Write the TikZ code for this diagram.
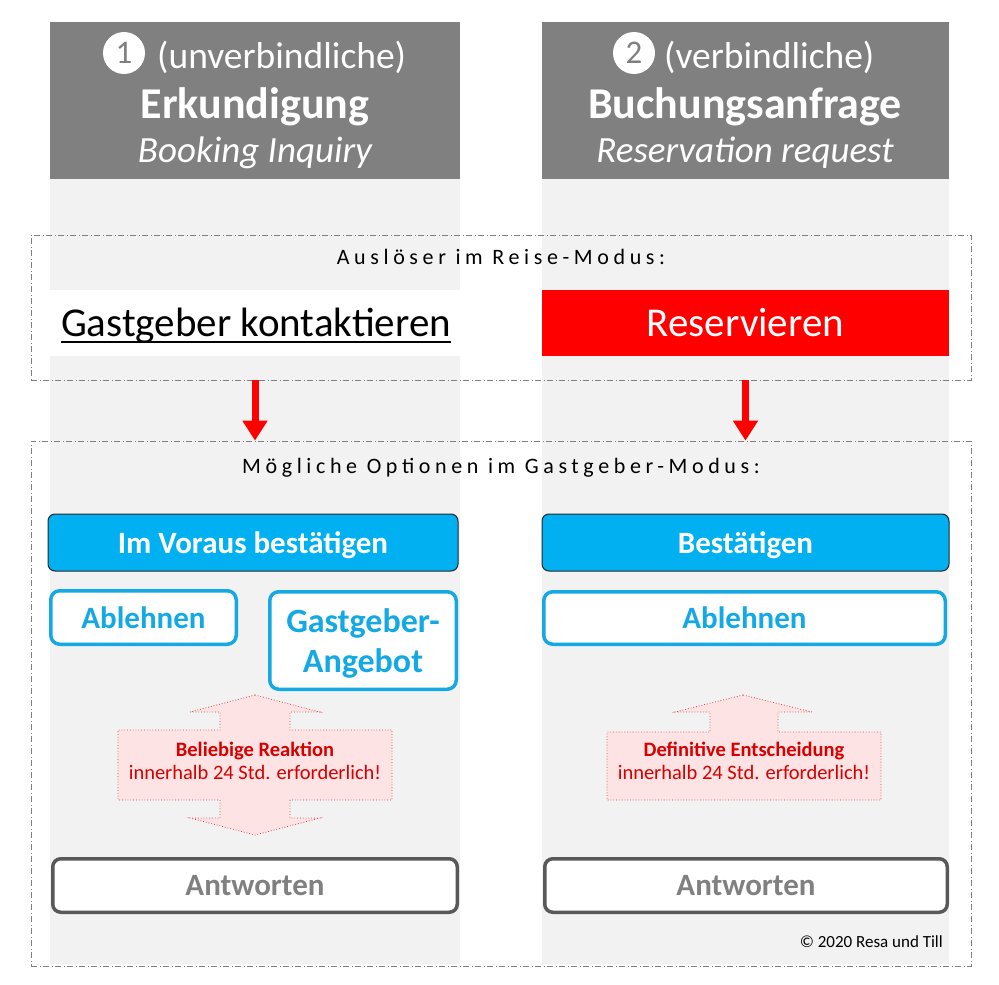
\documentclass[tikz,border=0pt]{standalone}
\usepackage{fontspec}
\setmainfont{Carlito}
\newfontfamily\spacedfont[LetterSpace=21]{Carlito}
\usetikzlibrary{arrows.meta}
\definecolor{hdrgray}{HTML}{808080}
\definecolor{colgray}{HTML}{F2F2F2}
\definecolor{cyanfill}{HTML}{00B0F0}
\definecolor{cyanline}{HTML}{14A9E4}
\definecolor{pinkfill}{HTML}{FDE3E3}
\definecolor{pinkline}{HTML}{D04040}
\definecolor{redtext}{HTML}{D60000}
\definecolor{ansline}{HTML}{595959}
\definecolor{anstext}{HTML}{808080}
\definecolor{dashgray}{HTML}{7F7F7F}
\newcommand{\fs}[1]{\fontsize{#1}{#1}\selectfont}
\tikzset{
  colbg/.style={fill=colgray, draw=none},
  hdrbox/.style={fill=hdrgray, draw=none},
  hdrtext/.style={text=white, inner sep=0pt, anchor=base},
  numcircle/.style={circle, fill=white, draw=none, minimum size=42pt, inner sep=0pt, text=hdrgray, font=\fs{33}},
  dashbox/.style={draw=dashgray, line width=0.8pt, dash pattern=on 6pt off 2.5pt on 1pt off 2.5pt, inner sep=0pt},
  spacedlabel/.style={inner sep=0pt, anchor=base, font=\spacedfont\fs{22}},
  trigger/.style={minimum width=410pt, minimum height=66pt, inner sep=0pt},
  redarrow/.style={draw=red, line width=7pt, -{Triangle[width=24pt,length=20pt]}},
  bluebox/.style={rounded corners=7pt, fill=cyanfill, draw=black!85, line width=1pt, text=white, inner sep=0pt, text depth=0pt, font=\bfseries\fs{31}},
  outbox/.style={rounded corners=9pt, fill=white, draw=cyanline, line width=3.5pt, text=cyanline, inner sep=0pt, text depth=0pt, font=\bfseries\fs{31}, align=center},
  ansbox/.style={rounded corners=8pt, fill=white, draw=ansline, line width=3.5pt, text=anstext, inner sep=0pt, text depth=0pt, font=\bfseries\fs{31}},
  pinkshape/.style={fill=pinkfill, draw=pinkline, line width=0.8pt, dotted},
  pinktext/.style={text=redtext, inner sep=0pt, align=center, font=\fs{20.5}},
}
\begin{document}
\begin{tikzpicture}[x=1pt,y=-1pt]
\useasboundingbox (0,0) rectangle (999,985);
\fill[white] (0,0) rectangle (999,985);
% columns
\fill[colbg] (50,22) rectangle (460,964);
\fill[colbg] (542,22) rectangle (949,964);
\fill[hdrbox] (50,22) rectangle (460,179);
\fill[hdrbox] (542,22) rectangle (949,179);
% headers
\node[numcircle] (c1) at (124,53) {1};
\node[hdrtext, anchor=base west, font=\fs{37.5}] (h1a) at (157,68) {(unverbindliche)};
\node[hdrtext, font=\bfseries\fs{44}] (h1b) at (255,118) {Erkundigung};
\node[hdrtext, font=\itshape\fs{37}] (h1c) at (255,162) {Booking Inquiry};
\node[numcircle] (c2) at (634,53) {2};
\node[hdrtext, anchor=base west, font=\fs{37.5}] (h2a) at (664,68) {(verbindliche)};
\node[hdrtext, font=\bfseries\fs{44}] (h2b) at (745,118) {Buchungsanfrage};
\node[hdrtext, font=\itshape\fs{37}] (h2c) at (745,162) {Reservation request};
% dashed frames
\node[dashbox, minimum width=940pt, minimum height=145pt] (trig) at (501,307.5) {};
\node[dashbox, minimum width=940pt, minimum height=525pt] (opts) at (501,703.5) {};
\node[spacedlabel] (lab1) at (501,264) {Auslöser im Reise-Modus:};
\node[spacedlabel] (lab2) at (501,473) {Mögliche Optionen im Gastgeber-Modus:};
% triggers
\node[trigger, fill=white] (gk) at (255,323) {};
\node[inner sep=0pt, anchor=base, font=\fs{41}] (gktext) at (256,336) {Gastgeber kontaktieren};
\draw[line width=2.4pt] ([yshift=-6pt]gktext.base west) -- ([yshift=-6pt]gktext.base east);
\node[trigger, fill=red, minimum width=407pt] (res) at (745.5,323) {};
\node[inner sep=0pt, anchor=base, font=\fs{41}, text=white] (restext) at (745.5,336) {Reservieren};
% red arrows
\draw[redarrow] (trig.south -| gk) -- (opts.north -| gk);
\draw[redarrow] (trig.south -| res) -- (opts.north -| res);
% option boxes
\node[bluebox, minimum width=410pt, minimum height=57pt] (vor) at (253,542.5) {Im Voraus bestätigen};
\node[bluebox, minimum width=407pt, minimum height=57pt] (best) at (745.5,542.5) {Bestätigen};
\node[outbox, minimum width=185.5pt, minimum height=53.5pt] (abl1) at (143.5,617.5) {Ablehnen};
\node[outbox, minimum width=186.5pt, minimum height=97.5pt, font=\bfseries\fs{34}] (ang) at (363,640.5) {Gastgeber-\\[6pt]Angebot};
\node[outbox, minimum width=401.5pt, minimum height=52.5pt] (abl2) at (744.5,618) {Ablehnen};
% pink arrows
\filldraw[pinkshape] (255,695) -- (190,712) -- (220,712) -- (220,730) -- (118,730) -- (118,800)
  -- (220,800) -- (220,818) -- (190,818) -- (255,835) -- (320,818) -- (290,818) -- (290,800)
  -- (392,800) -- (392,730) -- (290,730) -- (290,712) -- (320,712) -- cycle;
\node[pinktext] (p1) at (255,761) {{\bfseries Beliebige Reaktion}\\[3pt]innerhalb 24 Std. erforderlich!};
\filldraw[pinkshape] (743,695) -- (675,712) -- (710,712) -- (710,732) -- (607,732) -- (607,800)
  -- (881,800) -- (881,732) -- (778,732) -- (778,712) -- (812,712) -- cycle;
\node[pinktext] (p2) at (744,761) {{\bfseries Definitive Entscheidung}\\[3pt]innerhalb 24 Std. erforderlich!};
% answer boxes
\node[ansbox, minimum width=404.5pt, minimum height=53.5pt] (ans1) at (255,885.5) {Antworten};
\node[ansbox, minimum width=402.5pt, minimum height=53.5pt] (ans2) at (746,885.5) {Antworten};
% copyright
\node[inner sep=0pt, anchor=base east, font=\fs{17}] (copy) at (943,947) {© 2020 Resa und Till};
\end{tikzpicture}
\end{document}
